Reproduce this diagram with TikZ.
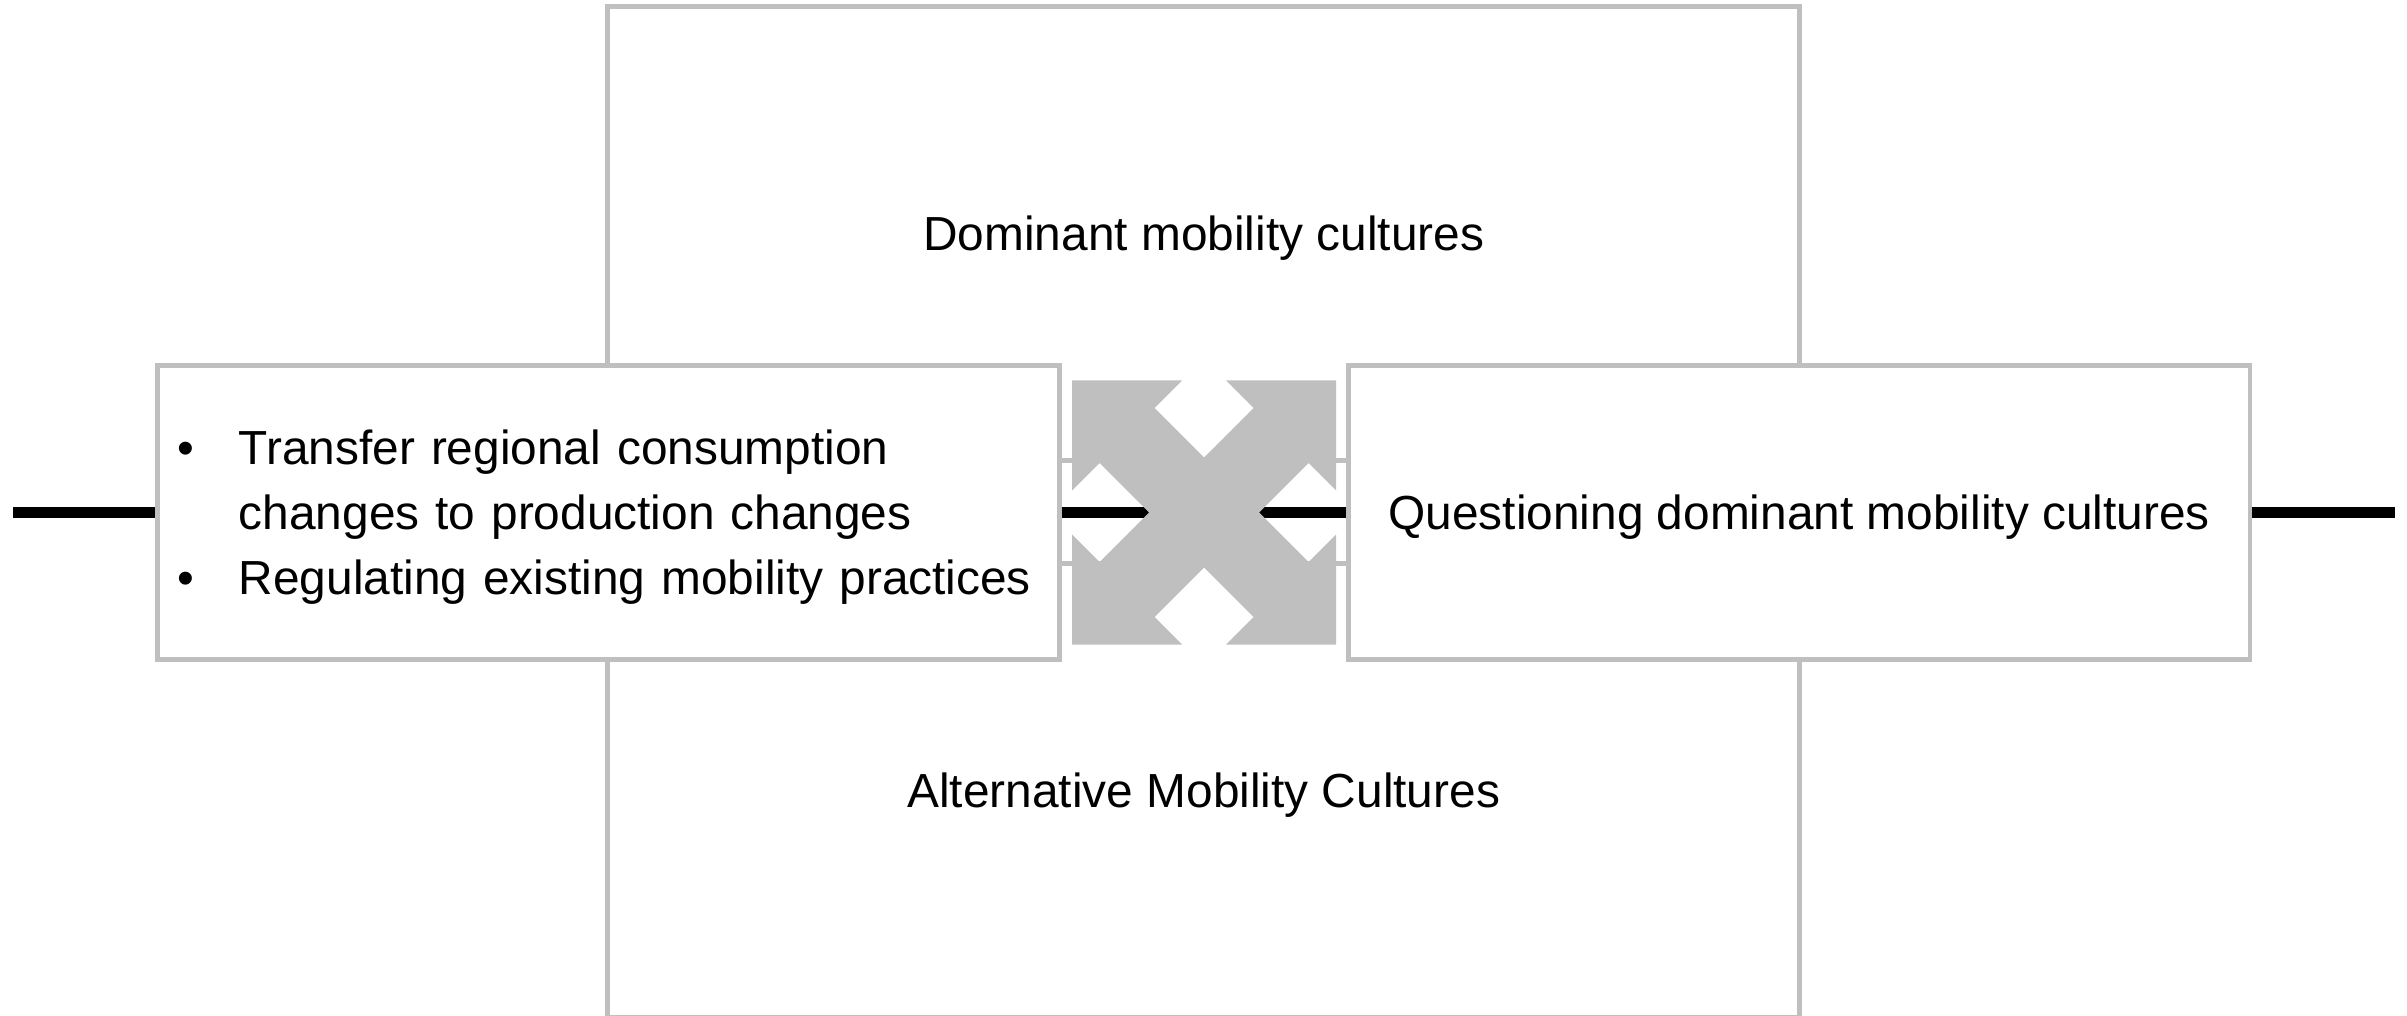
\documentclass[tikz,border=0pt]{standalone}
\usepackage{fontspec}
\setmainfont{Liberation Sans}
\usetikzlibrary{positioning}
\definecolor{boxgrey}{HTML}{BFBFBF}
\newcommand{\bul}{\makebox[0.615cm][l]{\textbullet}}

\begin{document}
\begin{tikzpicture}[x=0.01cm,y=-0.01cm,
  font=\fontsize{13.6pt}{18.6pt}\selectfont,
  cultbox/.style={draw=boxgrey,line width=1.4pt,fill=white,minimum width=11.915cm,minimum height=4.535cm,text height=0.44cm,text depth=0.1cm},
  sidebox/.style={draw=boxgrey,line width=1.4pt,fill=white,minimum width=9.01cm,minimum height=2.94cm},
  link/.style={line width=3.3pt},
  node distance=11.9cm]

\useasboundingbox (0,0) rectangle (2407,1016);

\node[cultbox] (dom) at (1203.75,233.75) {Dominant mobility cultures};
\node[cultbox] (alt) at (1203.75,790.25) {Alternative Mobility Cultures};

\node[sidebox,text width=8.618cm,inner xsep=0.196cm,align=left] (regul) at (608.5,512.5)
  {\rule{0pt}{0.44cm}\bul Transfer regional consumption\\
   \hspace*{0.615cm}changes to production changes\\
   \bul Regulating existing mobility practices};
\node[sidebox,text height=0.44cm,text depth=0.1cm] (quest) [right of=regul] {Questioning dominant mobility cultures};

\coordinate (lend) at (13.4,512.5);
\coordinate (rend) at (2395,512.5);
\draw[link] (lend) -- (regul);
\draw[link] (regul) -- (quest);
\draw[link] (quest) -- (rend);

% four-way arrow between the boxes
\coordinate (mid) at (1204,512.5);
\fill[boxgrey,shift={(mid)}] (-132,-132) -- (-22,-132) -- (-49.5,-104.5) -- (0,-55)
  -- (49.5,-104.5) -- (22,-132) -- (132,-132) -- (132,-22) -- (104.5,-49.5) -- (55,0)
  -- (104.5,49.5) -- (132,22) -- (132,132) -- (22,132) -- (49.5,104.5) -- (0,55)
  -- (-49.5,104.5) -- (-22,132) -- (-132,132) -- (-132,22) -- (-104.5,49.5) -- (-55,0)
  -- (-104.5,-49.5) -- (-132,-22) -- cycle;
\end{tikzpicture}
\end{document}
